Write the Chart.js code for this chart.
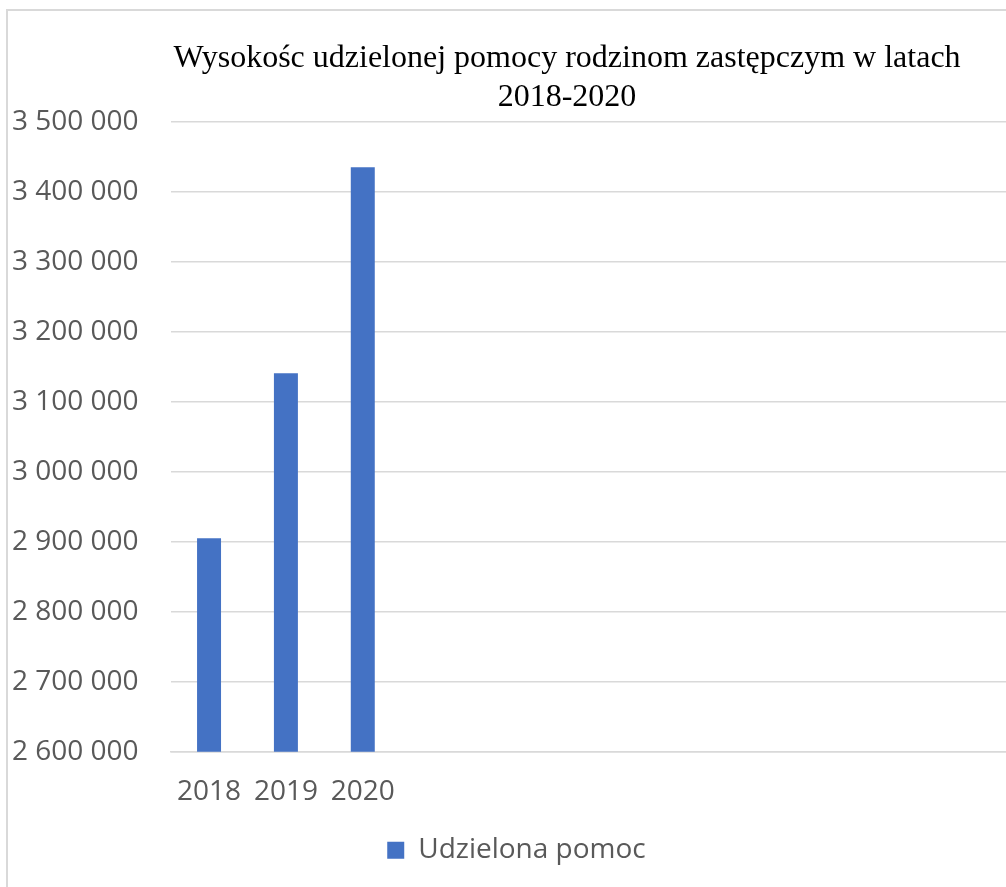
<!DOCTYPE html>
<html lang="pl">
<head>
<meta charset="utf-8">
<title>Wysokość udzielonej pomocy rodzinom zastępczym</title>
<script src="https://cdn.jsdelivr.net/npm/chart.js@4.4.1/dist/chart.umd.min.js"></script>
<style>
  html, body { margin: 0; padding: 0; background: #fff; overflow: hidden; }
  #frame {
    position: absolute; left: 6px; top: 9px;
    border-left: 2px solid #d9d9d9; border-top: 2px solid #d9d9d9;
  }
  canvas { display: block; }
</style>
</head>
<body>
<div id="frame">
  <canvas id="chart" width="1118" height="880"></canvas>
</div>
<script>
// ===== DATA =====
// the source sheet had 12 rows, only the first three filled
const years = ['2018', '2019', '2020', '', '', '', '', '', '', '', '', ''];
const aidValues = [2905000, 3141000, 3435500, null, null, null, null, null, null, null, null, null];
const seriesName = 'Udzielona pomoc';
const titleLines = ['Wysokośc udzielonej pomocy rodzinom zastępczym w latach', '2018-2020'];
const yMin = 2600000, yMax = 3500000, yStep = 100000;

const grey = '#595959';
const gridGrey = '#d9d9d9';
const barBlue = '#4472c4';

// spaces as thousand separators, like "3 500 000"
const fmt = v => String(v).replace(/\B(?=(\d{3})+(?!\d))/g, ' ');

// title and legend are not centred on the same axis in the original
const titleShift = 14.5;
const legendShift = -36;
const nudgeBoxes = {
  id: 'nudgeBoxes',
  afterLayout(chart) {
    if (chart.titleBlock) { chart.titleBlock.left += titleShift; chart.titleBlock.right += titleShift; }
    if (chart.legend) { chart.legend.left += legendShift; chart.legend.right += legendShift; }
  }
};

new Chart(document.getElementById('chart'), {
  type: 'bar',
  data: {
    labels: years,
    datasets: [{
      label: seriesName,
      data: aidValues,
      backgroundColor: barBlue,
      borderWidth: 0,
      categoryPercentage: 1,
      barPercentage: 0.312,
    }],
  },
  plugins: [nudgeBoxes],
  options: {
    responsive: false,
    animation: false,
    layout: { padding: { left: 4, right: 33, top: 0, bottom: 16.7 } },
    scales: {
      y: {
        min: yMin, max: yMax,
        ticks: {
          stepSize: yStep,
          color: grey,
          padding: 32,
          font: { family: 'Open Sans', size: 28 },
          callback: v => fmt(v),
        },
        grid: { color: gridGrey, lineWidth: 1.5, drawTicks: false },
        border: { display: false },
        // fit() reserves the tick padding twice, keep it once
        afterFit: s => { s.width -= s.options.ticks.padding; },
      },
      x: {
        ticks: {
          color: grey,
          padding: 24,
          maxRotation: 0,
          autoSkip: false,
          font: { family: 'Open Sans', size: 28 },
        },
        grid: { display: false, drawTicks: false },
        border: { display: true, color: gridGrey, width: 1.5 },
        afterFit: s => { s.height -= s.options.ticks.padding; },
      },
    },
    plugins: {
      title: {
        display: true,
        text: titleLines,
        color: '#000',
        font: { family: 'Liberation Serif', size: 32, weight: 'normal', lineHeight: 1.22 },
        padding: { top: 28, bottom: 5 },
      },
      legend: {
        position: 'bottom',
        labels: {
          color: grey,
          boxWidth: 17,
          boxHeight: 17,
          padding: 27,
          font: { family: 'Open Sans', size: 28 },
        },
      },
      tooltip: { enabled: false },
    },
  },
});
</script>
</body>
</html>
